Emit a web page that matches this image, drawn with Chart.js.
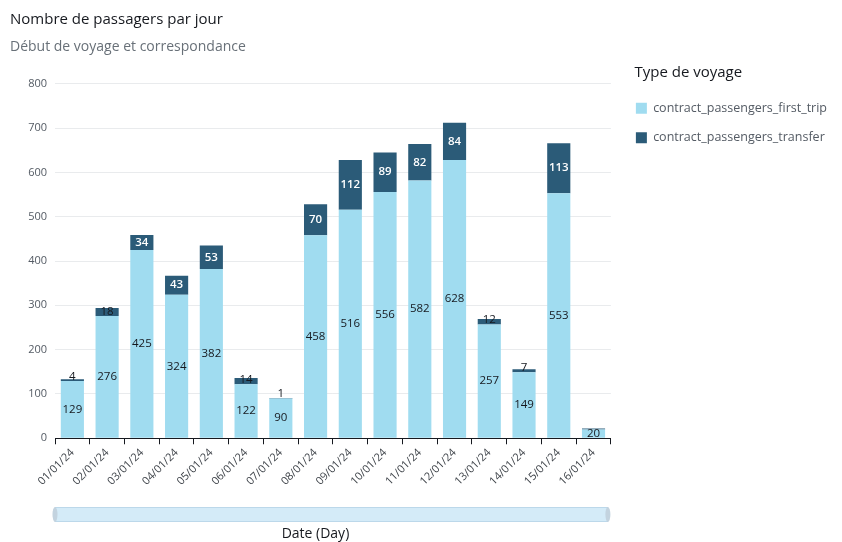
<!DOCTYPE html>
<html>
<head>
<meta charset="utf-8">
<title>Nombre de passagers par jour</title>
<script src="https://cdn.jsdelivr.net/npm/chart.js@4.4.1/dist/chart.umd.min.js"></script>
<style>
  html, body { margin: 0; padding: 0; background: #fff; }
  #wrap { width: 842px; height: 542px; }
</style>
</head>
<body>
<div id="wrap"><canvas id="passengersChart" width="842" height="542"></canvas></div>
<script>
// Daily passenger counts, split by trip type
const days = ['01/01/24', '02/01/24', '03/01/24', '04/01/24', '05/01/24', '06/01/24', '07/01/24', '08/01/24',
  '09/01/24', '10/01/24', '11/01/24', '12/01/24', '13/01/24', '14/01/24', '15/01/24', '16/01/24']
const firstTrip = [129, 276, 425, 324, 382, 122, 90, 458, 516, 556, 582, 628, 257, 149, 553, 20]
const transfer = [4, 18, 34, 43, 53, 14, 1, 70, 112, 89, 82, 84, 12, 7, 113, 2]
const yMax = 800
const yStep = 100

const FONT = '"Open Sans", "Noto Sans", sans-serif'
const TEXT_DARK = '#16191f'
const TEXT_GREY = '#545b64'
const LIGHT_BLUE = '#a0dcf0'
const DARK_BLUE = '#2b5b78'

// Value labels: centred in tall segments, sitting on the segment bottom when it is too thin.
// A label that would run into the one below it in the same bar is skipped.
const segmentLabels = {
  id: 'segmentLabels',
  afterDatasetsDraw(chart) {
    const { ctx } = chart
    ctx.save()
    ctx.textAlign = 'center'
    ctx.textBaseline = 'middle'
    const placed = {}

    chart.data.datasets.forEach((ds, idx) => {
      chart.getDatasetMeta(idx).data.forEach((bar, i) => {
        const value = ds.data[i]
        const top = Math.min(bar.y, bar.base)
        const bottom = Math.max(bar.y, bar.base)
        const h = bottom - top
        let cy, color, weight
        if (h >= 13) {
          cy = (top + bottom) / 2
          color = idx === 1 ? '#ffffff' : TEXT_DARK
          weight = idx === 1 ? '600 ' : ''
        } else {
          cy = bottom - 4.5
          color = TEXT_DARK
          weight = ''
        }
        const box = { top: cy - 5, bottom: cy + 5 }
        const prev = placed[i]
        if (prev && box.bottom > prev.top && box.top < prev.bottom) return
        placed[i] = box

        ctx.font = weight + '11.5px ' + FONT
        ctx.fillStyle = color
        ctx.fillText(value, bar.x, cy)
      })
    })
    ctx.restore()
  },
}

// Range slider under the axis and the axis caption
const dateSlider = {
  id: 'dateSlider',
  afterDraw(chart) {
    const { ctx, chartArea } = chart
    const x0 = chartArea.left
    const x1 = chartArea.right - 3
    const y0 = chart.height - 35
    const h = 15
    ctx.save()
    ctx.fillStyle = '#d4ebf8'
    ctx.strokeStyle = '#bcd8ea'
    ctx.lineWidth = 1
    ctx.fillRect(x0, y0, x1 - x0, h)
    ctx.strokeRect(x0 + 0.5, y0 + 0.5, x1 - x0 - 1, h - 1)

    ctx.fillStyle = '#c3d3df'
    ;[x0, x1].forEach((x) => {
      ctx.beginPath()
      ctx.ellipse(x, y0 + h / 2, 2.5, h / 2, 0, 0, Math.PI * 2)
      ctx.fill()
    })

    ctx.fillStyle = TEXT_DARK
    ctx.font = '14px ' + FONT
    ctx.textAlign = 'center'
    ctx.textBaseline = 'middle'
    ctx.fillText('Date (Day)', (x0 + x1) / 2 - 16, chart.height - 8)
    ctx.restore()
  },
}

const ctx = document.getElementById('passengersChart').getContext('2d')

new Chart(ctx, {
  type: 'bar',
  data: {
    labels: days,
    datasets: [
      {
        label: 'contract_passengers_first_trip',
        data: firstTrip,
        backgroundColor: LIGHT_BLUE,
        borderWidth: 0,
      },
      {
        label: 'contract_passengers_transfer',
        data: transfer,
        backgroundColor: DARK_BLUE,
        borderWidth: 0,
      },
    ],
  },
  options: {
    responsive: false,
    animation: false,
    layout: {
      padding: { left: 10, right: 5, bottom: 52 },
    },
    datasets: {
      bar: { categoryPercentage: 0.9, barPercentage: 0.74 },
    },
    scales: {
      x: {
        stacked: true,
        grid: {
          offset: true,
          drawOnChartArea: false,
          drawTicks: true,
          tickLength: 6,
          color: TEXT_DARK,
        },
        border: { display: true, color: TEXT_DARK },
        ticks: {
          minRotation: 45,
          maxRotation: 45,
          padding: 2,
          color: '#3f444a',
          font: { family: FONT, size: 11 },
        },
      },
      y: {
        stacked: true,
        min: 0,
        max: yMax,
        ticks: {
          stepSize: yStep,
          padding: 8,
          color: TEXT_GREY,
          font: { family: FONT, size: 11 },
        },
        grid: { color: '#e9ebed', drawTicks: false },
        border: { display: false },
        afterFit(scale) {
          scale.width = 45
        },
      },
      // empty axis on the right, only keeps a gap between the bars and the legend
      gap: {
        type: 'linear',
        position: 'right',
        grid: { display: false },
        border: { display: false },
        ticks: { display: false },
        afterFit(scale) {
          scale.width = 8
        },
      },
    },
    plugins: {
      title: {
        display: true,
        text: 'Nombre de passagers par jour',
        align: 'start',
        color: TEXT_DARK,
        font: { family: FONT, size: 15, weight: 'normal' },
        padding: { top: 11, bottom: 10 },
      },
      subtitle: {
        display: true,
        text: 'Début de voyage et correspondance',
        align: 'start',
        color: '#687078',
        font: { family: FONT, size: 14 },
        padding: { top: 0, bottom: 28 },
      },
      legend: {
        position: 'right',
        align: 'start',
        maxWidth: 240,
        title: {
          display: true,
          text: '    Type de voyage',
          position: 'start',
          color: TEXT_DARK,
          font: { family: FONT, size: 15 },
          padding: { top: 65, bottom: 2 },
        },
        labels: {
          boxWidth: 11,
          boxHeight: 11,
          padding: 17,
          color: TEXT_GREY,
          font: { family: FONT, size: 12.5 },
        },
      },
      tooltip: { enabled: false },
    },
  },
  plugins: [segmentLabels, dateSlider],
})
</script>
</body>
</html>
